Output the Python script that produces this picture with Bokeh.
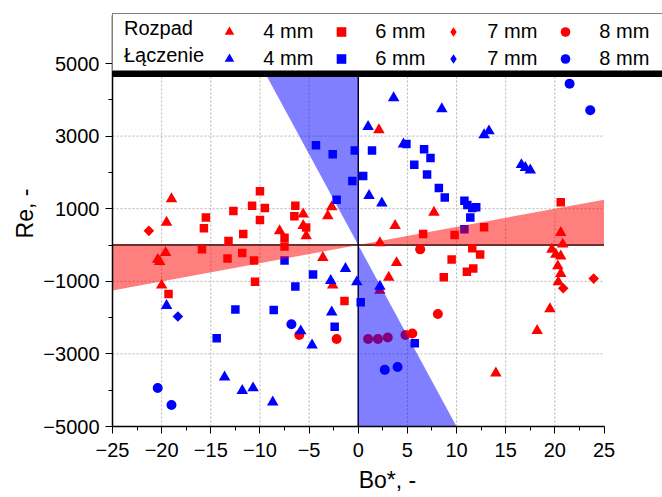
import numpy as np
from bokeh.plotting import figure
from bokeh.models import Legend, LegendItem, FixedTicker, Range1d
from bokeh.embed import file_html
from bokeh.resources import INLINE

# ---------------- data ----------------
BO_MIN, BO_MAX = -25, 25
RE_MIN, RE_MAX = -5000, 5000
X_TICKS = [-25, -20, -15, -10, -5, 0, 5, 10, 15, 20, 25]
X_MINOR = [-22.5, -17.5, -12.5, -7.5, -2.5, 2.5, 7.5, 12.5, 17.5, 22.5]
Y_TICKS = [-5000, -3000, -1000, 1000, 3000, 5000]
Y_MINOR = [-4000, -2000, 0, 2000, 4000]
X_GRID = [-20, -15, -10, -5, 5, 10, 15, 20]
Y_GRID = [-3000, -1000, 1000, 3000]
RED_SLOPE = 50      # Re per Bo, boundary of the red (Rozpad) region
BLUE_SLOPE = -500   # Re per Bo, boundary of the blue (Łączenie) region

# Rozpad (red)
r4_bo = [-19.0, -19.5, -8.0, -5.6, -5.6, -5.3, -3.1, -2.7, 2.1, 3.75, 7.7, 20.6, 2.2,
         -19.6, -20.4, -20.2, -20.0, -3.6, -2.6, 3.9, 3.1, 2.2, 14.0, 18.2, 19.5,
         19.7, 20.8, 20.1, 20.6, 20.3, 20.6, 20.35]
r4_re = [1270, 620, 390, 850, 530, 250, 800, 1050, 3170, 530, 900, 340, 60,
         -210, -400, -460, -1110, -350, -1110, -490, -890, -1250, -3530, -2360, -1760,
         -120, 20, -260, -310, -580, -790, -1020]
r6_bo = [-15.5, -15.7, -13.2, -12.7, -11.7, -10.8, -10.0, -9.5, -10.0, -15.9, -11.8,
         -7.5, -7.5, -6.4, -6.5, -5.3, 6.6, 9.8, 12.8, 20.6, -19.3, -13.3, -10.6,
         -10.5, -1.4, 11.6, 12.4, 9.5, 11.7, 11.05, 8.7]
r6_re = [760, 460, 110, 940, 300, 1080, 1480, 1020, 690, -120, -220,
         -40, 200, 1080, 790, 480, 300, 275, 490, 1180, -1350, -370, -425,
         -1010, -1540, -90, -260, -400, -650, -740, -890]
r7_bo = [-21.3, 20.85, 23.95]
r7_re = [390, -1190, -925]
r8_bo = [-6.0, -2.2, 6.3, 8.1, 5.5, 1.0, 2.0, 3.0, 4.8]
r8_re = [-2480, -2590, -120, -1900, -2440, -2590, -2590, -2550, -2480]

# Łączenie (blue)
b4_bo = [3.6, 8.5, 1.0, 4.6, 12.8, 13.3, 16.6, 17.0, 17.5, 1.1, 2.4,
         -2.8, -1.3, -0.15, -19.5, -5.85, -4.7, -2.7, -13.6, -11.8, -10.7, -8.7, 2.2]
b4_re = [4050, 3750, 3260, 2780, 3030, 3140, 2210, 2130, 2060, 1360, 1150,
         -980, -650, -1020, -1670, -2370, -2760, -1850, -3640, -4010, -3940, -4330, -1140]
b6_bo = [-4.3, -2.6, -0.35, -0.6, -2.2, 0.5, 1.4, 4.9, 6.7, 7.35, 5.7, 7.0, 8.2, 8.8,
         10.8, 11.1, 11.6, 12.0, 11.4, 10.8, -7.5, -4.6, -6.4, -12.5, -8.6, -14.4,
         -2.4, 0.25, 5.75]
b6_re = [2750, 2500, 2600, 1760, 1250, 1900, 2600, 2780, 2640, 2400, 2210, 1940, 1570, 1310,
         1220, 1100, 1020, 1040, 760, 435, -425, -815, -1140, -1780, -1790, -2570,
         -2250, -1575, -2710]
b7_bo = [-18.35]
b7_re = [-1970]
b8_bo = [21.5, 23.6, -6.8, -20.4, -19.0, 2.7, 4.0]
b8_re = [4440, 3710, -2185, -3940, -4410, -3440, -3360]

LEGEND_ROWS = ["Rozpad", "Łączenie"]
SIZE_LABELS = ["4 mm", "6 mm", "7 mm", "8 mm"]

# ---------------- layout / style ----------------
FONT = "Liberation Sans"
RED = "#ff0000"
BLUE = "#0000ff"
W, H = 662, 497
FRAME_LEFT, FRAME_BOTTOM = 112, 71          # px borders around the frame
PX_PER_BO = 9.83                              # px per unit of Bo*
PX_PER_RE = 0.0363                            # px per unit of Re
frame_w = W - FRAME_LEFT
frame_h = H - FRAME_BOTTOM
x_end = BO_MIN + frame_w / PX_PER_BO          # frame reaches the canvas edge (legend area)
y_end = RE_MIN + frame_h / PX_PER_RE
LEGEND_BOTTOM = 355                           # px above frame bottom
LEGEND_H = 56
axis_top = RE_MIN + (LEGEND_BOTTOM + LEGEND_H) / PX_PER_RE

p = figure(width=W, height=H, x_range=Range1d(BO_MIN, x_end),
           y_range=Range1d(RE_MIN, y_end), output_backend="svg",
           toolbar_location=None, title=None,
           min_border_left=FRAME_LEFT, min_border_right=0, min_border_top=0,
           min_border_bottom=FRAME_BOTTOM)
p.outline_line_color = None
p.background_fill_color = "white"
p.border_fill_color = "white"
p.xgrid.visible = False
p.ygrid.visible = False

for ax in (p.xaxis[0], p.yaxis[0]):
    ax.axis_line_width = 1.5
    ax.axis_line_color = "black"
    ax.major_tick_out = 7
    ax.major_tick_in = 0
    ax.minor_tick_out = 4
    ax.minor_tick_in = 0
    ax.major_tick_line_width = 1
    ax.minor_tick_line_width = 1
    ax.major_label_text_font = FONT
    ax.major_label_text_font_size = "20px"
    ax.major_label_text_color = "black"
    ax.axis_label_text_font = FONT
    ax.axis_label_text_font_size = "23px"
    ax.axis_label_text_font_style = "normal"
    ax.axis_label_text_color = "black"

p.xaxis.ticker = FixedTicker(ticks=X_TICKS, minor_ticks=X_MINOR)
p.yaxis.ticker = FixedTicker(ticks=Y_TICKS, minor_ticks=Y_MINOR)
p.xaxis.bounds = (BO_MIN, BO_MAX)
p.yaxis.bounds = (RE_MIN, axis_top)
p.xaxis.axis_label = "Bo*, -"
p.yaxis.axis_label = "Re, -"
p.xaxis.major_label_standoff = 9
p.xaxis.axis_label_standoff = 7
p.yaxis.major_label_standoff = 6
p.yaxis.axis_label_standoff = 2

# dotted grid inside the data area
p.segment(x0=X_GRID, y0=[RE_MIN] * len(X_GRID), x1=X_GRID, y1=[RE_MAX] * len(X_GRID),
          line_color="#b4b4b4", line_dash="2 2", line_width=1)
p.segment(x0=[BO_MIN] * len(Y_GRID), y0=Y_GRID, x1=[BO_MAX] * len(Y_GRID), y1=Y_GRID,
          line_color="#b4b4b4", line_dash="2 2", line_width=1)

# zero lines
p.segment(x0=[BO_MIN, 0], y0=[0, RE_MIN], x1=[BO_MAX, 0], y1=[0, RE_MAX],
          line_color="black", line_width=1.5)

def sc(bo, re, marker, color, size, angle=0.0):
    return p.scatter(bo, re, marker=marker, size=size, angle=angle,
                     fill_color=color, line_color=None)

rr4 = sc(r4_bo, r4_re, "triangle", RED, 11.5)
rr6 = sc(r6_bo, r6_re, "square", RED, 8.5)
rr7_key = sc(r7_bo, r7_re, "diamond", RED, 9)      # hidden under the rotated squares; legend key
sc(r7_bo, r7_re, "square", RED, 7.5, np.pi / 4)
rr8 = sc(r8_bo, r8_re, "circle", RED, 10)
rb4 = sc(b4_bo, b4_re, "triangle", BLUE, 11.5)
rb6 = sc(b6_bo, b6_re, "square", BLUE, 8.5)
rb7_key = sc(b7_bo, b7_re, "diamond", BLUE, 9)
sc(b7_bo, b7_re, "square", BLUE, 7.5, np.pi / 4)
rb8 = sc(b8_bo, b8_re, "circle", BLUE, 10)

# regions (drawn over the markers, semi-transparent)
red_xs = [BO_MIN, BO_MIN, 0, BO_MAX, BO_MAX]
red_ys = [0, RED_SLOPE * BO_MIN, 0, RED_SLOPE * BO_MAX, 0]
p.patch(red_xs, red_ys, fill_color=RED, fill_alpha=0.5, line_color=None)
blue_xs = [[0, RE_MAX / BLUE_SLOPE, 0], [0, 0, RE_MIN / BLUE_SLOPE]]
blue_ys = [[0, RE_MAX, RE_MAX], [0, RE_MIN, RE_MIN]]
p.patches(blue_xs, blue_ys, fill_color=BLUE, fill_alpha=0.5, line_color=None)

# ---- legend: shadow box, white box with row titles, marker items ----
def frame_legend(dx, dy, bg, labels):
    return Legend(items=[LegendItem(label=t, renderers=[]) for t in labels],
                  location=(dx, dy), orientation="vertical",
                  glyph_width=1, glyph_height=25, label_height=25, label_standoff=8,
                  label_width=600, spacing=2, padding=2, margin=0,
                  border_line_color="black", border_line_width=1,
                  background_fill_color=bg, background_fill_alpha=1,
                  label_text_font=FONT, label_text_font_size="20px",
                  label_text_color="black")

p.add_layout(frame_legend(1, LEGEND_BOTTOM - 6, "black", [" ", " "]), "center")
p.add_layout(frame_legend(0, LEGEND_BOTTOM, "white", LEGEND_ROWS), "center")

items = [LegendItem(label=lab, renderers=[r]) for lab, r in
         zip(SIZE_LABELS + SIZE_LABELS,
             [rr4, rr6, rr7_key, rr8, rb4, rb6, rb7_key, rb8])]
legend = Legend(items=items, location=(105.3, LEGEND_BOTTOM), orientation="horizontal",
                ncols=4, glyph_width=24, glyph_height=25, label_height=25,
                label_standoff=22, label_width=64, spacing=2, padding=2, margin=0,
                border_line_color=None, background_fill_alpha=0,
                label_text_font=FONT, label_text_font_size="20px",
                label_text_color="black")
p.add_layout(legend, "center")

open("out.html", "w").write(file_html(p, INLINE))
